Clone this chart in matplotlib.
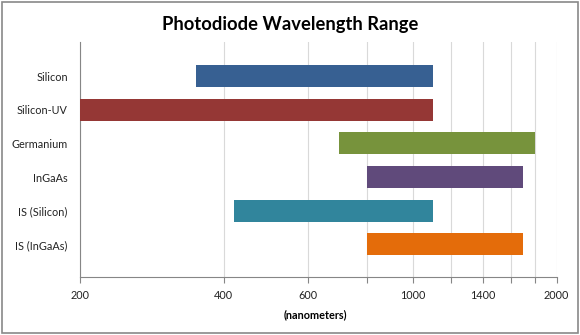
import matplotlib.pyplot as plt
from matplotlib.ticker import FixedLocator, NullLocator
from matplotlib.patches import Rectangle

#Data
detectors = ["Silicon", "Silicon-UV", "Germanium", "InGaAs", "IS (Silicon)", "IS (InGaAs)"]
low_nm = [350, 200, 700, 800, 420, 800]
high_nm = [1100, 1100, 1800, 1700, 1100, 1700]
bar_colors = ["#376092", "#953735", "#77933C", "#604A7B", "#31859C", "#E46C0A"]
grid_ticks = [200, 400, 600, 800, 1000, 1200, 1400, 1600, 1800, 2000]
shown_labels = ["200", "400", "600", "", "1000", "", "1400", "", "", "2000"]

plt.rcParams['font.family'] = ['Lato', 'DejaVu Sans']

fig = plt.figure(figsize=(5.8, 3.35), dpi=100)
ax = fig.add_axes([0.1384, 0.1722, 0.8214, 0.7033])

#Bars (floating, start to end)
widths = [h - l for l, h in zip(low_nm, high_nm)]
ax.barh(range(len(detectors)), widths, left=low_nm, height=0.66, color=bar_colors, zorder=3)

#Axes
ax.set_xscale('log')
ax.set_xlim(200, 2000)
ax.set_ylim(5.98, -1.02)
ax.xaxis.set_major_locator(FixedLocator(grid_ticks))
ax.xaxis.set_minor_locator(NullLocator())
ax.set_xticklabels(shown_labels)
ax.set_yticks(range(len(detectors)))
ax.set_yticklabels(detectors)
ax.grid(axis='x', color='#D9D9D9', linewidth=0.8, zorder=0)
ax.tick_params(axis='x', length=4, color='#868686', pad=5, labelsize=7.8, labelcolor='#222222')
ax.tick_params(axis='y', length=0, pad=9, labelsize=7.8, labelcolor='#222222')
for side in ['top', 'right']:
    ax.spines[side].set_visible(False)
for side in ['left', 'bottom']:
    ax.spines[side].set_color('#868686')
    ax.spines[side].set_linewidth(0.8)

#Titles
fig.text(0.5, 0.928, "Photodiode Wavelength Range", ha='center', va='center', fontsize=13.2, fontweight='bold')
fig.text(0.543, 0.06, "(nanometers)", ha='center', va='center', fontsize=7.8, fontweight='bold')

#Outer border
fig.patches.append(Rectangle((0.004, 0.006), 0.992, 0.988, transform=fig.transFigure,
                             fill=False, edgecolor='#898989', linewidth=1.2))

fig.savefig("out.png", dpi=100)
